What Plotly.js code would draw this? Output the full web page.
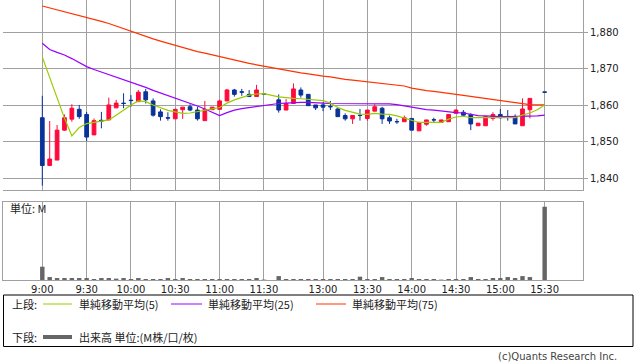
<!DOCTYPE html>
<html>
<head>
<meta charset="utf-8">
<script src="https://cdn.plot.ly/plotly-3.0.1.min.js"></script>
<style>html,body{margin:0;padding:0;background:#fff;}#chart{width:638px;height:362px;}</style>
</head>
<body>
<div id="chart"></div>
<script>
// ---- Data (5-minute bars; slot index 0 = 9:00, 31 and 67 are empty slots) ----
const tickSlots = [0, 6, 12, 18, 24, 30, 38, 44, 50, 56, 62, 68];
const tickLabels = ['9:00','9:30','10:00','10:30','11:00','11:30','13:00','13:30','14:00','14:30','15:00','15:30'];

const candleSlots = [0,1,2,3,4,5,6,7,8,9,10,11,12,13,14,15,16,17,18,19,20,21,22,23,24,25,26,27,28,29,30,
  32,33,34,35,36,37,38,39,40,41,42,43,44,45,46,47,48,49,50,51,52,53,54,55,56,57,58,59,60,61,62,63,64,65,66,68];
const openP = [1856.6,1843.5,1845.0,1853.2,1856.2,1858.9,1857.5,1851.9,1855.9,1856.0,1859.3,1860.6,1861.4,1861.0,1863.7,1861.2,1858.2,1856.6,1856.3,1858.8,1859.6,1858.7,1855.8,1858.8,1858.9,1861.2,1864.2,1863.7,1863.0,1862.4,1863.15,
  1861.5,1858.7,1860.5,1864.2,1863.0,1860.1,1860.1,1859.7,1859.0,1857.2,1856.3,1857.25,1856.4,1858.4,1859.2,1856.6,1855.55,1855.5,1856.4,1853.0,1854.8,1856.05,1855.3,1855.5,1857.8,1858.1,1857.5,1854.4,1854.4,1856.4,1857.5,1856.95,1856.9,1854.4,1858.8,1863.65];
const highP = [1862.6,1855.7,1854.6,1857.5,1860.3,1860.1,1858.2,1856.4,1858.2,1862.1,1861.5,1863.3,1862.8,1864.2,1864.5,1861.9,1858.9,1858.1,1859.0,1859.5,1860.3,1859.6,1861.2,1859.5,1861.5,1864.5,1864.5,1864.5,1864.2,1865.6,1863.3,
  1863.0,1861.7,1866.0,1864.9,1863.0,1860.1,1860.8,1861.2,1859.3,1857.8,1857.2,1859.0,1858.7,1860.3,1859.6,1857.2,1856.3,1857.2,1856.4,1855.5,1856.0,1856.6,1856.0,1857.5,1858.9,1858.7,1857.8,1855.1,1856.9,1858.1,1859.0,1858.7,1857.5,1861.9,1861.9,1863.65];
const lowP = [1838.0,1843.5,1845.0,1853.0,1855.5,1856.3,1850.2,1851.9,1853.7,1856.0,1859.3,1859.2,1859.6,1861.0,1860.5,1856.9,1855.8,1855.8,1856.3,1856.3,1858.4,1855.8,1855.8,1858.8,1858.9,1861.2,1862.4,1862.6,1862.4,1862.4,1862.9,
  1858.0,1858.7,1860.5,1862.1,1859.9,1858.7,1858.4,1858.7,1856.9,1855.8,1854.9,1855.8,1855.8,1858.4,1854.9,1854.9,1854.9,1855.5,1853.2,1853.0,1854.4,1855.3,1855.3,1855.5,1857.8,1856.9,1853.2,1854.4,1854.4,1855.8,1856.4,1855.8,1854.9,1854.4,1856.4,1863.55];
const closeP = [1843.5,1845.3,1853.2,1856.6,1859.2,1856.9,1851.3,1855.8,1855.7,1860.1,1860.6,1860.5,1861.3,1863.6,1861.5,1857.3,1856.9,1856.5,1858.9,1859.5,1858.7,1856.3,1858.9,1859.5,1861.2,1864.2,1863.0,1863.6,1862.4,1864.2,1863.1,
  1858.7,1860.5,1864.5,1862.8,1859.9,1859.3,1859.5,1859.6,1856.9,1856.3,1857.2,1857.2,1858.7,1859.6,1856.3,1855.7,1855.5,1856.6,1853.2,1855.3,1856.0,1856.0,1856.0,1857.5,1858.7,1857.3,1854.9,1855.1,1856.9,1857.5,1856.6,1856.9,1854.9,1859.0,1861.9,1863.6];

const maSlots = [0,1,2,3,4,5,6,7,8,9,10,11,12,13,14,15,16,17,18,19,20,21,22,23,24,25,26,27,28,29,30,
  32,33,34,35,36,37,38,39,40,41,42,43,44,45,46,47,48,49,50,51,52,53,54,55,56,57,58,59,60,61,62,63,64,65,66,67,68];
const ma5 = [1873.2,1867.5,1862.0,1856.5,1851.6,1853.9,1855.0,1855.4,1855.8,1856.0,1857.3,1858.7,1860.1,1861.2,1861.0,1860.1,1859.4,1858.6,1858.2,1857.8,1857.9,1858.2,1858.6,1859.0,1859.4,1860.6,1861.5,1862.1,1862.8,1863.1,1863.2,
  1862.3,1862.0,1861.9,1861.8,1861.6,1861.5,1861.3,1860.6,1859.4,1858.6,1858.0,1857.6,1857.5,1857.8,1857.6,1857.5,1857.1,1856.5,1855.7,1855.3,1855.3,1855.3,1855.3,1856.2,1856.8,1857.0,1856.6,1856.6,1856.6,1856.6,1856.6,1856.6,1856.6,1857.3,1857.9,1858.8,1860.1];
const ma25 = [1877.0,1875.3,1874.5,1873.8,1872.8,1871.7,1870.6,1869.8,1869.1,1868.4,1867.8,1867.2,1866.4,1865.6,1864.9,1864.1,1863.4,1862.7,1862.1,1861.3,1860.5,1859.8,1859.0,1858.2,1857.2,1858.0,1858.7,1859.1,1859.4,1859.6,1860.1,
  1860.5,1860.6,1860.8,1860.8,1860.8,1860.8,1860.6,1860.5,1860.5,1860.5,1860.5,1860.4,1860.4,1860.4,1860.4,1860.4,1860.2,1859.8,1859.4,1859.0,1858.8,1858.7,1858.4,1858.2,1858.0,1857.9,1857.5,1857.2,1857.1,1856.9,1856.9,1856.9,1856.9,1856.9,1857.0,1857.1,1857.3];
const ma75 = [1887.2,1886.7,1886.1,1885.6,1885.1,1884.5,1884.1,1883.6,1883.0,1882.4,1881.7,1880.9,1880.1,1879.5,1878.8,1878.2,1877.6,1877.0,1876.4,1875.8,1875.2,1874.7,1874.3,1873.8,1873.3,1872.8,1872.3,1871.9,1871.5,1871.1,1870.7,
  1870.0,1869.7,1869.3,1868.9,1868.6,1868.2,1868.0,1867.8,1867.4,1867.1,1866.9,1866.7,1866.5,1866.3,1866.0,1865.9,1865.6,1865.3,1864.7,1864.3,1864.0,1863.8,1863.6,1863.3,1863.0,1862.7,1862.4,1862.1,1861.9,1861.6,1861.4,1861.0,1860.7,1860.4,1860.2,1860.1,1860.1];

const volSlots = candleSlots;
const volume = [0.068,0.015,0.010,0.010,0.010,0.010,0.010,0.005,0.010,0.010,0.007,0.010,0.005,0.010,0.005,0.005,0.005,0.010,0.005,0.010,0.005,0.005,0.005,0.005,0.005,0.005,0.005,0.005,0.005,0.010,0.002,
  0.020,0.005,0.005,0.005,0.005,0.005,0.005,0.005,0.005,0.005,0.005,0.017,0.005,0.005,0.015,0.005,0.005,0.005,0.010,0.005,0.005,0.005,0.002,0.005,0.005,0.005,0.015,0.005,0.005,0.010,0.010,0.015,0.010,0.020,0.015,0.374];

const legendLabels = ['単純移動平均(5)', '単純移動平均(25)', '単純移動平均(75)'];

// ---- Styling ----
const UP = '#ff0a3c', DOWN = '#0a3399';
const C5 = '#99cc00', C25 = '#9900ff', C75 = '#ff3300';
const GRID = '#a0a0a0';
const tickFont = {family: 'DejaVu Sans', size: 10, color: '#222'};
const jpFont = {family: 'Noto Sans CJK JP', size: 11, color: '#222'};

const XR = [-5.32, 73.19];
// pixel -> paper helpers (plot area: x 3..583, y 0..280)
const px = X => (X - 3) / 580;
const py = Y => (280 - Y) / 280;

const traces = [
  {type: 'candlestick', x: candleSlots, open: openP, high: highP, low: lowP, close: closeP,
   xaxis: 'x', yaxis: 'y', whiskerwidth: 0, hoverinfo: 'skip', showlegend: false,
   increasing: {line: {color: UP, width: 1}, fillcolor: UP},
   decreasing: {line: {color: DOWN, width: 1}, fillcolor: DOWN}},
  {type: 'scatter', mode: 'lines', x: maSlots, y: ma75, line: {color: C75, width: 1.2}, xaxis: 'x', yaxis: 'y', hoverinfo: 'skip', showlegend: false},
  {type: 'scatter', mode: 'lines', x: maSlots, y: ma25, line: {color: C25, width: 1.2}, xaxis: 'x', yaxis: 'y', hoverinfo: 'skip', showlegend: false},
  {type: 'scatter', mode: 'lines', x: maSlots, y: ma5, line: {color: C5, width: 1.2}, xaxis: 'x', yaxis: 'y', hoverinfo: 'skip', showlegend: false},
  {type: 'bar', x: volSlots, y: volume, width: 0.6, marker: {color: '#666666', line: {width: 0}}, xaxis: 'x2', yaxis: 'y2', hoverinfo: 'skip', showlegend: false}
];

const shapes = [
  {type: 'rect', xref: 'paper', yref: 'paper', x0: px(3.5), x1: px(633), y0: py(295), y1: py(346.5), line: {color: '#000', width: 1}, fillcolor: 'rgba(0,0,0,0)'},
  {type: 'line', xref: 'paper', yref: 'paper', x0: px(43), x1: px(72), y0: py(304), y1: py(304), line: {color: C5, width: 1}},
  {type: 'line', xref: 'paper', yref: 'paper', x0: px(171), x1: px(202), y0: py(304), y1: py(304), line: {color: C25, width: 1}},
  {type: 'line', xref: 'paper', yref: 'paper', x0: px(316), x1: px(346), y0: py(304), y1: py(304), line: {color: C75, width: 1}},
  {type: 'line', xref: 'paper', yref: 'paper', x0: px(43), x1: px(72), y0: py(337), y1: py(337), line: {color: '#666', width: 4}}
];

const ann = (X, Y, text, font, xanchor) => ({xref: 'paper', yref: 'paper', x: px(X), y: py(Y), text: text,
  showarrow: false, xanchor: xanchor || 'left', yanchor: 'middle', font: font});

const annotations = [
  ann(8, 208, '単位: M', jpFont),
  ann(10, 304, '上段:', jpFont),
  ann(77, 304, legendLabels[0], jpFont),
  ann(206, 304, legendLabels[1], jpFont),
  ann(350, 304, legendLabels[2], jpFont),
  ann(10, 337, '下段:', jpFont),
  ann(77, 337, '出来高 単位:(M株/口/枚)', jpFont),
  ann(619, 356, '(c)Quants Research Inc.', {family: 'DejaVu Sans', size: 10, color: '#444'}, 'right')
];

const layout = {
  width: 638, height: 362,
  margin: {l: 3, r: 55, t: 0, b: 82, pad: 0},
  paper_bgcolor: '#fff', plot_bgcolor: '#fff',
  showlegend: false,
  boxgap: 0.28,
  bargap: 0.4,
  xaxis: {domain: [0, 1], anchor: 'y', range: XR, tickmode: 'array', tickvals: tickSlots, ticktext: tickLabels,
    showticklabels: false, ticks: '', showgrid: true, gridcolor: GRID, gridwidth: 1, showline: true, linecolor: GRID,
    zeroline: false, rangeslider: {visible: false}, fixedrange: true},
  yaxis: {domain: [1 - 190/280, 1], anchor: 'x', range: [1836.8, 1888.85], side: 'right', tickmode: 'linear', tick0: 1840, dtick: 10,
    tickformat: ',d', ticks: 'outside', ticklen: 4, tickcolor: GRID, showline: true, linecolor: GRID,
    showgrid: true, gridcolor: GRID, zeroline: false, tickfont: tickFont, fixedrange: true},
  xaxis2: {domain: [0, 1], anchor: 'y2', range: XR, tickmode: 'array', tickvals: tickSlots, ticktext: tickLabels,
    ticks: '', showgrid: true, gridcolor: GRID, showline: true, mirror: true, linecolor: GRID, zeroline: false,
    tickfont: tickFont, fixedrange: true},
  yaxis2: {domain: [0, (280 - 201.7)/280], anchor: 'x2', range: [0, 0.4], showticklabels: false, ticks: '',
    showgrid: false, showline: true, mirror: true, linecolor: GRID, zeroline: false, fixedrange: true},
  shapes: shapes,
  annotations: annotations
};

Plotly.newPlot('chart', traces, layout, {staticPlot: true, displayModeBar: false});
</script>
</body>
</html>
